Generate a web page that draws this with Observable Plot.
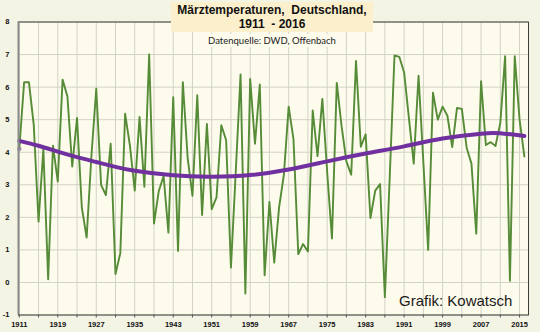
<!DOCTYPE html>
<html>
<head>
<meta charset="utf-8">
<script src="https://cdn.jsdelivr.net/npm/d3@7"></script>
<script src="https://cdn.jsdelivr.net/npm/@observablehq/plot@0.6"></script>
<style>
  body { margin: 0; background: #f4f4e4; }
  #wrap { position: relative; width: 540px; height: 332px; overflow: hidden; }
  #title {
    position: absolute; left: 171px; top: 2px; width: 202px; height: 30px;
    background: #fcf0cc; box-sizing: border-box; padding-top: 1px;
    font: bold 12px "Liberation Sans", Arial, sans-serif; color: #111;
    text-align: center; line-height: 14px; white-space: pre;
  }
  #sub {
    position: absolute; left: 200px; top: 34px; width: 144px; height: 13px;
    background: #fdfbec; font: 9.5px Lato, "Open Sans", sans-serif; color: #222;
    text-align: center; line-height: 13px; white-space: pre;
  }
  #credit {
    position: absolute; left: 399px; top: 292px; height: 17px;
    font: 15px "Liberation Sans", Arial, sans-serif; color: #1a1a1a;
    line-height: 17px; white-space: pre;
  }
</style>
</head>
<body>
<div id="wrap">
  <div id="chart"></div>
  <div id="title">Märztemperaturen,  Deutschland,
1911  - 2016</div>
  <div id="sub">Datenquelle: DWD, Offenbach</div>
  <div id="credit">Grafik: Kowatsch</div>
</div>
<script>
// March mean temperatures, Germany (°C), 1911–2016
const firstYear = 1911;
const marchTemps = [
  4.1, 6.15, 6.15, 4.85, 1.87, 4.1, 0.1, 4.2, 3.1, 6.23,      // 1911-1920
  5.72, 3.56, 5.05, 2.3, 1.38, 3.9, 5.95, 3.0, 2.68, 4.26,    // 1921-1930
  0.26, 0.9, 5.18, 4.2, 2.82, 5.08, 2.94, 7.0, 1.81, 2.81,    // 1931-1940
  3.27, 1.53, 5.69, 0.97, 6.15, 3.83, 2.66, 5.75, 2.07, 4.87, // 1941-1950
  2.25, 2.61, 4.83, 4.37, 0.46, 3.4, 6.39, -0.34, 6.25, 4.26, // 1951-1960
  6.08, 0.22, 2.47, 0.61, 2.3, 3.3, 5.4, 4.4, 0.87, 1.18,     // 1961-1970
  0.95, 5.28, 3.88, 5.64, 3.4, 1.35, 6.13, 4.8, 3.72, 3.31,   // 1971-1980
  6.8, 4.17, 4.55, 1.98, 2.82, 3.02, -0.45, 3.2, 6.97, 6.93,  // 1981-1990
  6.45, 5.05, 3.65, 6.35, 3.7, 1.0, 5.83, 5.0, 5.4, 5.12,     // 1991-2000
  4.16, 5.36, 5.33, 4.14, 3.65, 1.5, 6.18, 4.22, 4.31, 4.19,  // 2001-2010
  4.9, 6.95, 0.05, 6.95, 5.0, 3.87                            // 2011-2016
];
const years = marchTemps.map((_, i) => firstYear + i);

// Polynomial trend line
const trendYears  = [1911, 1915, 1919, 1923, 1927, 1931, 1935, 1943, 1951, 1959, 1967, 1975, 1983, 1991, 1999, 2007, 2011, 2016];
const trendValues = [4.35, 4.2, 4.02, 3.85, 3.7, 3.55, 3.43, 3.29, 3.25, 3.3, 3.47, 3.72, 3.96, 4.18, 4.42, 4.57, 4.58, 4.5];

const gridYears  = [1911, 1915, 1919, 1923, 1927, 1931, 1935, 1939, 1943, 1947, 1951, 1955, 1959, 1963, 1967, 1971, 1975, 1979, 1983, 1987, 1991, 1995, 1999, 2003, 2007, 2011, 2015];
const labelYears = [1911, 1919, 1927, 1935, 1943, 1951, 1959, 1967, 1975, 1983, 1991, 1999, 2007, 2015];
const yTicks = [-1, 0, 1, 2, 3, 4, 5, 6, 7, 8];

const data = years.map((y, i) => ({year: y, temp: marchTemps[i]}));
const trend = trendYears.map((y, i) => ({year: y, temp: trendValues[i]}));

const xMin = 1910.834, xMax = 2016.86;

const chart = Plot.plot({
  width: 540,
  height: 332,
  marginLeft: 18,
  marginRight: 12,
  marginTop: 21.5,
  marginBottom: 17.5,
  style: {background: "transparent", fontFamily: "'Liberation Sans', Arial, sans-serif", color: "#111"},
  x: {domain: [xMin, xMax], label: null},
  y: {domain: [-1, 8], label: null},
  marks: [
    Plot.frame({fill: "#fdfbec"}),
    Plot.gridX(gridYears, {stroke: "#d2d2c6", strokeOpacity: 1}),
    Plot.gridY(yTicks, {stroke: "#d2d2c6", strokeOpacity: 1}),
    Plot.line(data, {x: "year", y: "temp", stroke: "#568b37", strokeWidth: 1.9}),
    Plot.line(trend, {x: "year", y: "temp", stroke: "#7030a0", strokeWidth: 4, curve: "natural"}),
    Plot.dot(data.slice(0, 1), {x: "year", y: "temp", r: 1.8, fill: "#6a9fd8", stroke: "#c04040", strokeWidth: 0.5}),
    Plot.frame({stroke: "#3c3c3c", strokeWidth: 1}),
    Plot.ruleX([xMin], {stroke: "#8a8a8a", strokeWidth: 2}),
    Plot.axisX(gridYears, {tickSize: 3, tickFormat: () => "", stroke: "#555", label: null}),
    Plot.axisX(labelYears, {tickSize: 0, tickPadding: 7, fontSize: 7.5, fontWeight: "bold", tickFormat: d => String(d), label: null}),
    Plot.axisY(yTicks, {tickSize: 0, tickPadding: 9, fontSize: 7.5, fontWeight: "bold", tickFormat: d => String(d), label: null})
  ]
});
document.getElementById("chart").appendChild(chart);
</script>
</body>
</html>
